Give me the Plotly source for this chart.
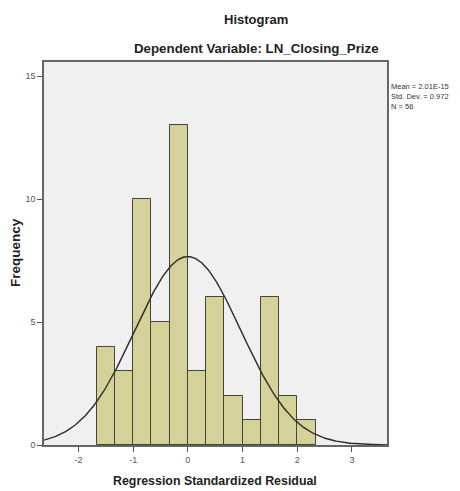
import numpy as np
import plotly.graph_objects as go

# Data
bin_edges = [-5/3, -4/3, -1, -2/3, -1/3, 0, 1/3, 2/3, 1, 4/3, 5/3, 2, 7/3]
counts = [4, 3, 10, 5, 13, 3, 6, 2, 1, 6, 2, 1]
stat_mean = 2.01e-15
stat_sd = 0.972
stat_n = 56
x_ticks = [-2, -1, 0, 1, 2, 3]
y_ticks = [0, 5, 10, 15]

centers = [(a + b) / 2 for a, b in zip(bin_edges[:-1], bin_edges[1:])]
widths = [b - a for a, b in zip(bin_edges[:-1], bin_edges[1:])]
bin_w = widths[0]

# page body has an 8px margin: work in page coords minus 8
OFF = 8
PL, PR, PT, PB = 44 - OFF, 386.7 - OFF, 62 - OFF, 445 - OFF
W, H = 460 - OFF, 491 - OFF
PW, PH = PR - PL, PB - PT

fig = go.Figure()
fig.add_trace(go.Bar(
    x=centers, y=counts, width=widths,
    marker=dict(color="#d4d199", line=dict(color="#444438", width=1)),
    hoverinfo="x+y", showlegend=False))

xr = [-2.63, 3.64]
xs = np.linspace(xr[0], xr[1], 400)
ys = stat_n * bin_w * np.exp(-0.5 * ((xs - stat_mean) / stat_sd) ** 2) / (stat_sd * np.sqrt(2 * np.pi))
fig.add_trace(go.Scatter(x=xs, y=ys, mode="lines",
                         line=dict(color="#2b2b2b", width=1.4), showlegend=False))

fig.update_layout(
    width=W, height=H,
    margin=dict(l=PL, r=W - PR, t=PT, b=H - PB, pad=0),
    paper_bgcolor="white", plot_bgcolor="#f0f0f0",
    font=dict(family="Liberation Sans, Arial, sans-serif", color="#222"),
    bargap=0,
)
fig.update_xaxes(range=xr, tickvals=x_ticks, ticktext=[str(v) for v in x_ticks],
                 ticks="outside", ticklen=5, tickcolor="#555",
                 tickfont=dict(size=9, color="#555"), showgrid=False, zeroline=False,
                 showline=True, linecolor="#666", linewidth=1.5, mirror=True)
fig.update_yaxes(range=[0, 15.57], tickvals=y_ticks, ticktext=[str(v) for v in y_ticks],
                 ticks="outside", ticklen=5, tickcolor="#555",
                 tickfont=dict(size=9, color="#555"), showgrid=False, zeroline=False,
                 showline=True, linecolor="#666", linewidth=1.5, mirror=True)

def px(xpage):
    return (xpage - OFF - PL) / PW

def py(ypage):
    return (PB - (ypage - OFF)) / PH

fig.add_annotation(text="<b>Histogram</b>", xref="paper", yref="paper",
                   x=px(255.5), y=py(19), showarrow=False,
                   font=dict(size=13, color="#222"), xanchor="center", yanchor="middle")
fig.add_annotation(text="<b>Dependent Variable: LN_Closing_Prize</b>", xref="paper", yref="paper",
                   x=px(256.5), y=py(49), showarrow=False,
                   font=dict(size=13.3, color="#222"), xanchor="center", yanchor="middle")
fig.add_annotation(text="<b>Regression Standardized Residual</b>", xref="paper", yref="paper",
                   x=px(215), y=py(481), showarrow=False,
                   font=dict(size=12.4, color="#222"), xanchor="center", yanchor="middle")
fig.add_annotation(text="<b>Frequency</b>", xref="paper", yref="paper",
                   x=px(15), y=py(252), showarrow=False, textangle=-90,
                   font=dict(size=13.5, color="#222"), xanchor="center", yanchor="middle")
fig.add_annotation(text="Mean = 2.01E-15<br>Std. Dev. = 0.972<br>N = 56", xref="paper", yref="paper",
                   x=px(389), y=py(80), showarrow=False,
                   align="left", font=dict(size=7.5, color="#333"), xanchor="left", yanchor="top")

fig.write_html("out.html")
